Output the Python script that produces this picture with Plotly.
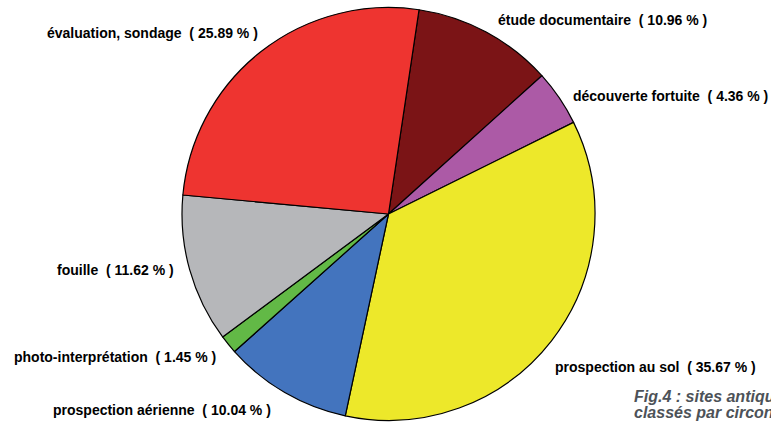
import plotly.graph_objects as go

labels = ["étude documentaire", "découverte fortuite", "prospection au sol",
          "prospection aérienne", "photo-interprétation", "fouille",
          "évaluation, sondage"]
values = [10.96, 4.36, 35.67, 10.04, 1.45, 11.62, 25.89]
colors = ["#7B1416", "#AC5AA6", "#EDE82A", "#4374BE", "#62B946", "#B6B7BA", "#EE3430"]
caption_lines = ["Fig.4 : sites antiques", "classés par circonscription"]

# label anchor positions (pixels from top-left) and alignment
label_pos = {
    "étude documentaire": (496, 20, "left"),
    "découverte fortuite": (571, 96, "left"),
    "prospection au sol": (553, 367, "left"),
    "prospection aérienne": (51, 410, "left"),
    "photo-interprétation": (12, 357, "left"),
    "fouille": (55, 270, "left"),
    "évaluation, sondage": (45, 33, "left"),
}

W, H = 771, 423
fig = go.Figure(go.Pie(
    labels=labels, values=values, sort=False, direction="clockwise",
    rotation=8.5, textinfo="none", hoverinfo="label+percent",
    marker=dict(colors=colors, line=dict(color="#000000", width=1.2)),
    domain=dict(x=[(388.5 - 206.5) / W, (388.5 + 206.5) / W],
                y=[2.5 / H, 415.5 / H]),
    showlegend=False,
))

for lab, v in zip(labels, values):
    px, py, anc = label_pos[lab]
    fig.add_annotation(
        x=px / W, y=1 - py / H, xref="paper", yref="paper",
        xanchor=anc, yanchor="middle", showarrow=False,
        text=f"{lab}\u00a0\u00a0(\u00a0{v:.2f}\u00a0%\u00a0)",
        font=dict(family="Liberation Sans", size=14, color="#000000", weight="bold"),
    )

for i, line in enumerate(caption_lines):
    fig.add_annotation(
        x=632 / W, y=1 - (396 + 16 * i) / H, xref="paper", yref="paper",
        xanchor="left", yanchor="middle", showarrow=False, align="left",
        text=f"<i>{line}</i>",
        font=dict(family="Liberation Sans", size=16, color="#4d5258", weight="bold"),
    )

fig.update_layout(width=W, height=H, margin=dict(l=0, r=0, t=0, b=0),
                  paper_bgcolor="white", plot_bgcolor="white")
fig.write_html("out.html", config={"displayModeBar": False},
               post_script="document.body.style.margin='0';document.body.style.overflow='hidden';")
